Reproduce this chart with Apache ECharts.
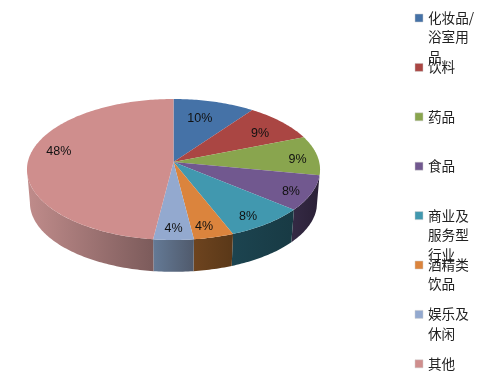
<!DOCTYPE html>
<html>
<head>
<meta charset="utf-8">
<style>
html, body { margin: 0; padding: 0; background: #fff; }
#chart_box { width: 498px; height: 384px; }
</style>
<script src="https://cdn.jsdelivr.net/npm/echarts@6/dist/echarts.min.js"></script>
</head>
<body>
<div id="chart_box"></div>
<script>
/*类别(图例文字按行拆开)*/
var categories = ['化妆品/\n浴室用\n品', '饮料', '药品', '食品', '商业及\n服务型\n行业', '酒精类\n饮品', '娱乐及\n休闲', '其他'];
/*占比*/
var shares = [10, 9, 9, 8, 8, 4, 4, 48];
var percentLabels = ['10%', '9%', '9%', '8%', '8%', '4%', '4%', '48%'];

/*颜色*/
var topColors = ['#4572A7', '#AA4643', '#89A54E', '#71588F', '#4198AF', '#DB843D', '#93A9CF', '#CF8E8D'];
var sideLeft = ['#2A4464', '#662A28', '#52632E', '#352A45', '#1C4450', '#6E441F', '#647A96', '#C08C8B'];
var sideRight = ['#2A4464', '#662A28', '#52632E', '#2A2036', '#183A44', '#5A3818', '#505A6C', '#7C5B5B'];

/*百分比标签的微调(像素)*/
var labelNudge = [[-7, 6], [-1, 4], [9, 3], [8, 5], [1, 6], [-1, 6], [0, 6], [1, -7]];

/*透视椭圆参数*/
var cx = 173.5, cy = 162, rx = 145.7, ry = 69.7, persp = 0.1064;
var depth = 33.6, bottomScale = 0.98;

function project(deg, r, dy, scale) {
	var a = deg * Math.PI / 180;
	var u = Math.sin(a) * r * scale;
	var v = -Math.cos(a) * r * scale;
	var d = 1 - persp * v;
	return [cx + rx * u / d, cy + dy + ry * v / d];
}

function rimPoints(from, to, dy, scale) {
	var pts = [];
	var n = Math.max(2, Math.ceil(to - from));
	for(var i = 0; i <= n; i++) {
		pts.push(project(from + (to - from) * i / n, 1, dy, scale));
	}
	return pts;
}

var total = shares.reduce(function(s, v) { return s + v; }, 0);

function sliceRange(idx) {
	var sum = 0;
	for(var i = 0; i < idx; i++) {
		sum += shares[i];
	}
	return [sum / total * 360, (sum + shares[idx]) / total * 360];
}

function renderSide(params) {
	var range = sliceRange(params.dataIndex);
	/*只画朝前的部分*/
	var from = Math.max(range[0], 96), to = Math.min(range[1], 264);
	if(to <= from) {
		return null;
	}
	var pts = rimPoints(from, to, 0, 1).concat(rimPoints(from, to, depth, bottomScale).reverse());
	return {
		type: 'polygon',
		shape: { points: pts },
		style: {
			fill: new echarts.graphic.LinearGradient(0, 0, 1, 0, [
				{ offset: 0, color: sideLeft[params.dataIndex] },
				{ offset: 1, color: sideRight[params.dataIndex] }
			])
		}
	};
}

function renderTop(params) {
	var i = params.dataIndex;
	var range = sliceRange(i);
	var pts = [project(0, 0, 0, 1)].concat(rimPoints(range[0], range[1], 0, 1));
	var mid = project((range[0] + range[1]) / 2, 0.8, 0, 1);
	return {
		type: 'group',
		children: [{
			type: 'polygon',
			shape: { points: pts },
			style: { fill: topColors[i] }
		}, {
			type: 'text',
			z2: 10,
			style: {
				x: mid[0] + labelNudge[i][0],
				y: mid[1] + labelNudge[i][1],
				text: percentLabels[i],
				fill: '#111',
				font: '12.5px "Liberation Sans", sans-serif',
				align: 'center',
				verticalAlign: 'middle'
			}
		}]
	};
}

/*图例:标记和文字*/
function buildLegend() {
	var items = [];
	for(var i = 0; i < categories.length; i++) {
		var y = 18 + i * 49.4;
		items.push({
			type: 'rect',
			shape: { x: 415, y: y - 4, width: 8, height: 8 },
			style: { fill: topColors[i], stroke: '#ccc', lineWidth: 0.5 }
		});
		items.push({
			type: 'text',
			style: {
				x: 428,
				y: y - 10,
				text: categories[i],
				fill: '#222',
				font: '13.6px "Noto Sans CJK SC", sans-serif',
				lineHeight: 19.5,
				verticalAlign: 'top'
			}
		});
	}
	return items;
}

var myChart = echarts.init(document.getElementById('chart_box'), null, { renderer: 'canvas' });
var option = {
	animation: false,
	backgroundColor: '#fff',
	graphic: { elements: buildLegend() },
	series: [{
		type: 'custom',
		name: '侧面',
		coordinateSystem: 'none',
		silent: true,
		z: 1,
		data: shares,
		renderItem: renderSide
	}, {
		type: 'custom',
		name: '占比',
		coordinateSystem: 'none',
		silent: true,
		z: 2,
		data: shares,
		renderItem: renderTop
	}]
};
myChart.setOption(option);
</script>
</body>
</html>
